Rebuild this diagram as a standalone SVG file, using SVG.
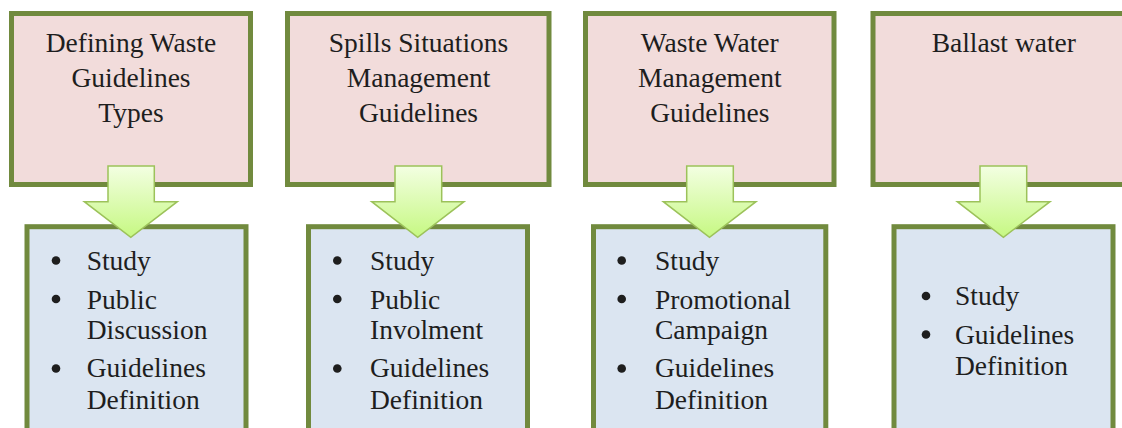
<svg xmlns="http://www.w3.org/2000/svg" width="1122" height="428" viewBox="0 0 1122 428">
<defs>
<linearGradient id="ag" x1="0" y1="0" x2="0" y2="1">
<stop offset="0" stop-color="#f3ffe2"/>
<stop offset="1" stop-color="#c6f882"/>
</linearGradient>
<style>
.top{fill:#f2dcdb;stroke:#718a3e;stroke-width:5}
.bot{fill:#dbe5f1;stroke:#718a3e;stroke-width:5}
.t{font-family:"Liberation Serif","DejaVu Serif",serif;font-size:27.5px;fill:#1e1e1e}
.c{text-anchor:middle}
.d{fill:#1e1e1e}
.arr{fill:url(#ag);stroke:#9cc25a;stroke-width:1.5;stroke-linejoin:miter}
</style>
</defs>
<g id="top1">
<rect class="top" x="11.5" y="13.5" width="239" height="171"/>
<text class="t c" x="131" y="51.5">Defining Waste</text>
<text class="t c" x="131" y="86.5">Guidelines</text>
<text class="t c" x="131" y="122">Types</text>
</g>
<g id="top2">
<rect class="top" x="287.5" y="13.5" width="261.5" height="171"/>
<text class="t c" x="418.5" y="51.5">Spills Situations</text>
<text class="t c" x="418.5" y="86.5">Management</text>
<text class="t c" x="418.5" y="122">Guidelines</text>
</g>
<g id="top3">
<rect class="top" x="585.5" y="13.5" width="248.5" height="171"/>
<text class="t c" x="709.8" y="51.5">Waste Water</text>
<text class="t c" x="709.8" y="86.5">Management</text>
<text class="t c" x="709.8" y="122">Guidelines</text>
</g>
<g id="top4">
<rect class="top" x="873" y="13.5" width="261" height="171"/>
<text class="t c" x="1003.8" y="51.5">Ballast water</text>
</g>
<g id="bot1">
<rect class="bot" x="27" y="226.7" width="219" height="230"/>
<circle class="d" cx="56" cy="260.5" r="4.3"/>
<text class="t" x="86.7" y="270">Study</text>
<circle class="d" cx="56" cy="299" r="4.3"/>
<text class="t" x="86.7" y="308.5">Public</text>
<text class="t" x="86.7" y="339">Discussion</text>
<circle class="d" cx="56" cy="368.5" r="4.3"/>
<text class="t" x="86.7" y="377">Guidelines</text>
<text class="t" x="86.7" y="408.5">Definition</text>
</g>
<g id="bot2">
<rect class="bot" x="308.5" y="226.7" width="219" height="230"/>
<circle class="d" cx="337.3" cy="260.5" r="4.3"/>
<text class="t" x="370" y="270">Study</text>
<circle class="d" cx="337.3" cy="299" r="4.3"/>
<text class="t" x="370" y="308.5">Public</text>
<text class="t" x="370" y="339">Involment</text>
<circle class="d" cx="337.3" cy="368.5" r="4.3"/>
<text class="t" x="370" y="377">Guidelines</text>
<text class="t" x="370" y="408.5">Definition</text>
</g>
<g id="bot3">
<rect class="bot" x="593.5" y="226.7" width="232.3" height="230"/>
<circle class="d" cx="621.7" cy="260.5" r="4.3"/>
<text class="t" x="655" y="270">Study</text>
<circle class="d" cx="621.7" cy="299" r="4.3"/>
<text class="t" x="655" y="308.5">Promotional</text>
<text class="t" x="655" y="339">Campaign</text>
<circle class="d" cx="621.7" cy="368.5" r="4.3"/>
<text class="t" x="655" y="377">Guidelines</text>
<text class="t" x="655" y="408.5">Definition</text>
</g>
<g id="bot4">
<rect class="bot" x="894" y="226.7" width="219" height="230"/>
<circle class="d" cx="926" cy="296" r="4.3"/>
<text class="t" x="955" y="305">Study</text>
<circle class="d" cx="926" cy="334.5" r="4.3"/>
<text class="t" x="955" y="343.5">Guidelines</text>
<text class="t" x="955" y="375">Definition</text>
</g>
<g id="connectors">
<path class="arr" d="M108 166 H154.3 V201.7 H177.3 L130.8 237.3 L84.3 201.7 H108 Z"/>
<path class="arr" d="M395 166 H441.7 V201.7 H464 L417.7 237.3 L371.7 201.7 H395 Z"/>
<path class="arr" d="M686.7 166 H733.3 V201.7 H756 L709.5 237.3 L663.3 201.7 H686.7 Z"/>
<path class="arr" d="M980 166 H1026.7 V201.7 H1050 L1003.4 237.3 L957.3 201.7 H980 Z"/>
</g>
</svg>
